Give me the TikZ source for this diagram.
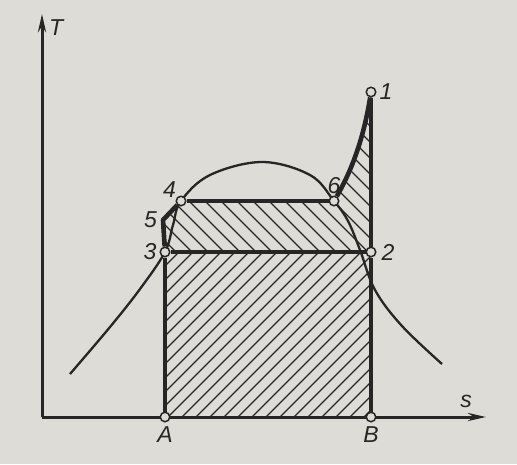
\documentclass[tikz,border=0pt]{standalone}
\usepackage{fontspec}
\setsansfont{Liberation Sans}
\usetikzlibrary{positioning,arrows.meta}
\definecolor{paper}{RGB}{221,220,215}
\definecolor{ink}{RGB}{38,38,38}

\begin{document}
\begin{tikzpicture}[x=1pt,y=-1pt,>={Stealth[length=18pt,width=8pt]},
  font=\sffamily\itshape\fontsize{23}{23}\selectfont,
  color=ink,
  axis/.style={line width=3pt},
  cycleline/.style={line width=4.6pt,line join=round},
  satline/.style={line width=2.3pt},
  hatch/.style={line width=1.2pt},
  dot/.style={circle,draw=ink,fill=paper,line width=1.5pt,inner sep=0pt,minimum size=9.5pt},
  tag/.style={inner sep=1pt,text=ink}]
  \fill[paper] (0,0) rectangle (517,464);
  \useasboundingbox (0,0) rectangle (517,464);
  % state points
  \coordinate (cO) at (42,417);
  \coordinate (cT) at (42,14);
  \coordinate (cS) at (486,417);
  \coordinate (cA) at (165,417);
  \coordinate (cB) at (371,417);
  \coordinate (c1) at (371,92);
  \coordinate (c2) at (371,252);
  \coordinate (c3) at (165,252);
  \coordinate (c4) at (181,201);
  \coordinate (c5) at (163,220);
  \coordinate (c6) at (334,201);
  % hatching, lower part
  \begin{scope}
    \clip (cA) -- (c3) -- (c2) -- (cB) -- cycle;
    \foreach \k in {0,14,...,392} \draw[hatch] (\k,417) -- ++(200,-200);
  \end{scope}
  % hatching, upper part
  \begin{scope}
    \clip (c3) -- (c5) -- (c4) -- (c6) .. controls (355,165) and (365,130) .. (c1) -- (c2) -- cycle;
    \foreach \k in {0,16,...,384} \draw[hatch] (\k,92) -- ++(200,200);
  \end{scope}
  % saturation curve
  \draw[satline] plot[smooth,tension=0.6] coordinates {(70,374) (110,327) (140,289) (165,252) (173,225) (181,201) (210,175) (262,162) (310,175) (334,201) (348,221) (360,250) (375,290) (402,326) (442,364)};
  % axes
  \draw[axis,->] (cO) -- (cT);
  \draw[axis,->] (cO) -- (cS);
  % markers
  \node[dot] (pA) at (cA) {};
  \node[dot] (pB) at (cB) {};
  \node[dot] (p1) at (c1) {};
  \node[dot] (p2) at (c2) {};
  \node[dot] (p3) at (c3) {};
  \node[dot] (p4) at (c4) {};
  \node[dot] (p6) at (c6) {};
  % cycle
  \draw[cycleline] (p1) -- (p2);
  \draw[cycleline] (p2) -- (p3);
  \draw[cycleline] (p3) -- (c5) -- (p4);
  \draw[cycleline] (p4) -- (p6);
  \draw[cycleline] (p6) .. controls (355,165) and (365,130) .. (p1);
  \draw[cycleline] (pA) -- (p3);
  \draw[cycleline] (pB) -- (p2);
  % labels
  \node[tag,right=2pt of p1] (l1) {1};
  \node[tag,right=4pt of p2] (l2) {2};
  \node[tag,left=2pt of p3] (l3) {3};
  \node[tag,above left=-2pt and 0pt of p4] (l4) {4};
  \node[tag,left=5pt of c5] (l5) {5};
  \node[tag,above=1pt of p6] (l6) {6};
  \node[tag,below=3pt of pA] (lA) {A};
  \node[tag,below=3pt of pB] (lB) {B};
  \node[tag,right=6pt of cT,anchor=north west,yshift=-4pt] (lT) {T};
  \node[tag,above=8pt of cS,xshift=-20pt] (lS) {s};
\end{tikzpicture}
\end{document}
